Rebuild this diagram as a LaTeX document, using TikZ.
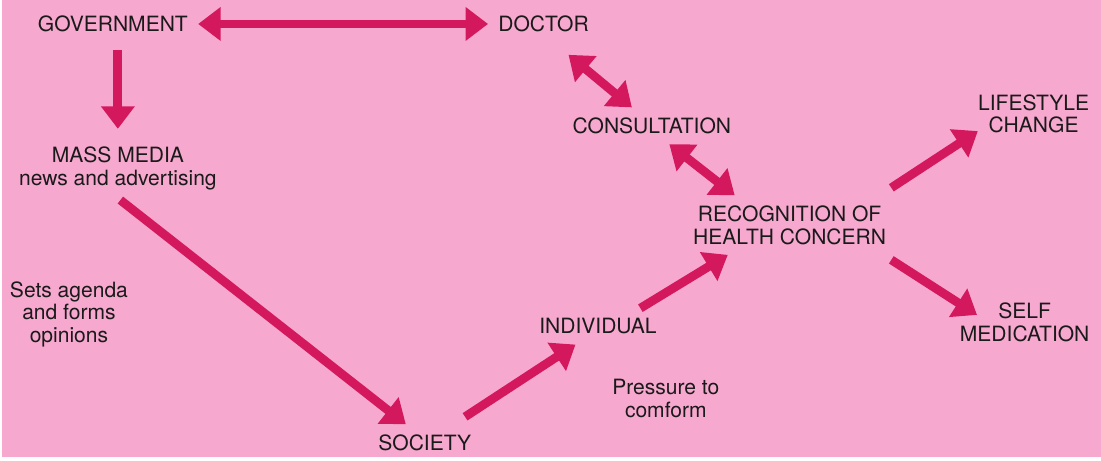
\documentclass[tikz,border=0pt]{standalone}
\usepackage{fontspec}
\setmainfont{TeX Gyre Heros}
\usetikzlibrary{arrows.meta}
\definecolor{cbg}{HTML}{F7A8CE}
\definecolor{carrow}{HTML}{D4185E}
\definecolor{ctext}{HTML}{1A1A1A}
\tikzset{
  lbl/.style={align=center, inner sep=0.2cm, text=ctext,
              font=\fontsize{12}{13}\selectfont},
  flow/.style={-{Triangle[length=4.5mm,width=6.5mm]}, line width=5pt, draw=carrow},
  dflow/.style={{Triangle[length=4.5mm,width=6.5mm]}-{Triangle[length=4.5mm,width=6.5mm]},
                line width=5pt, draw=carrow},
}
\begin{document}
\begin{tikzpicture}
  \fill[cbg] (0,0) rectangle (22.02,9.16);
  % labels
  \node[lbl] (gov)   at (2.22,8.68)  {GOVERNMENT};
  \node[lbl] (doc)   at (10.85,8.68) {DOCTOR};
  \node[lbl] (mm)    at (2.32,5.79)  {MASS MEDIA\\news and advertising};
  \node[lbl] (sets)  at (1.34,2.86)  {Sets agenda\\and forms\\opinions};
  \node[lbl] (soc)   at (8.47,0.29)  {SOCIETY};
  \node[lbl] (ind)   at (11.94,2.62) {INDIVIDUAL};
  \node[lbl] (press) at (13.30,1.18) {Pressure to\\comform};
  \node[lbl] (cons)  at (13.02,6.64) {CONSULTATION};
  \node[lbl] (rec)   at (15.78,4.65) {RECOGNITION OF\\HEALTH CONCERN};
  \node[lbl] (life)  at (20.67,6.88) {LIFESTYLE\\CHANGE};
  \node[lbl] (self)  at (20.49,2.70) {SELF\\MEDICATION};
  % arrows
  \draw[dflow] (gov) -- (doc);
  \draw[flow, shorten <=0.15cm] (gov.south -| mm.north) -- ([yshift=0.15cm]mm.north);
  \draw[flow] ([xshift=0.05cm]mm.south) -- ([xshift=-0.38cm]soc.north);
  \draw[flow] ([shift={(-0.33,0.15)}]soc.north east) -- ([xshift=-0.45cm]ind.south);
  \draw[flow] ([xshift=0.85cm]ind.north) -- ([xshift=0.9cm]rec.south west);
  \draw[dflow] ([shift={(0.5,-0.25)}]doc.south) -- ([xshift=-0.4cm]cons.north);
  \draw[dflow] ([xshift=0.35cm]cons.south) -- ([xshift=-1.1cm]rec.north);
  \draw[flow] ([shift={(-0.1,0.15)}]rec.north east) -- ([shift={(0.2,0.25)}]life.south west);
  \draw[flow] ([shift={(-0.1,-0.1)}]rec.south east) -- ([shift={(0.55,0.15)}]self.west);
\end{tikzpicture}
\end{document}
